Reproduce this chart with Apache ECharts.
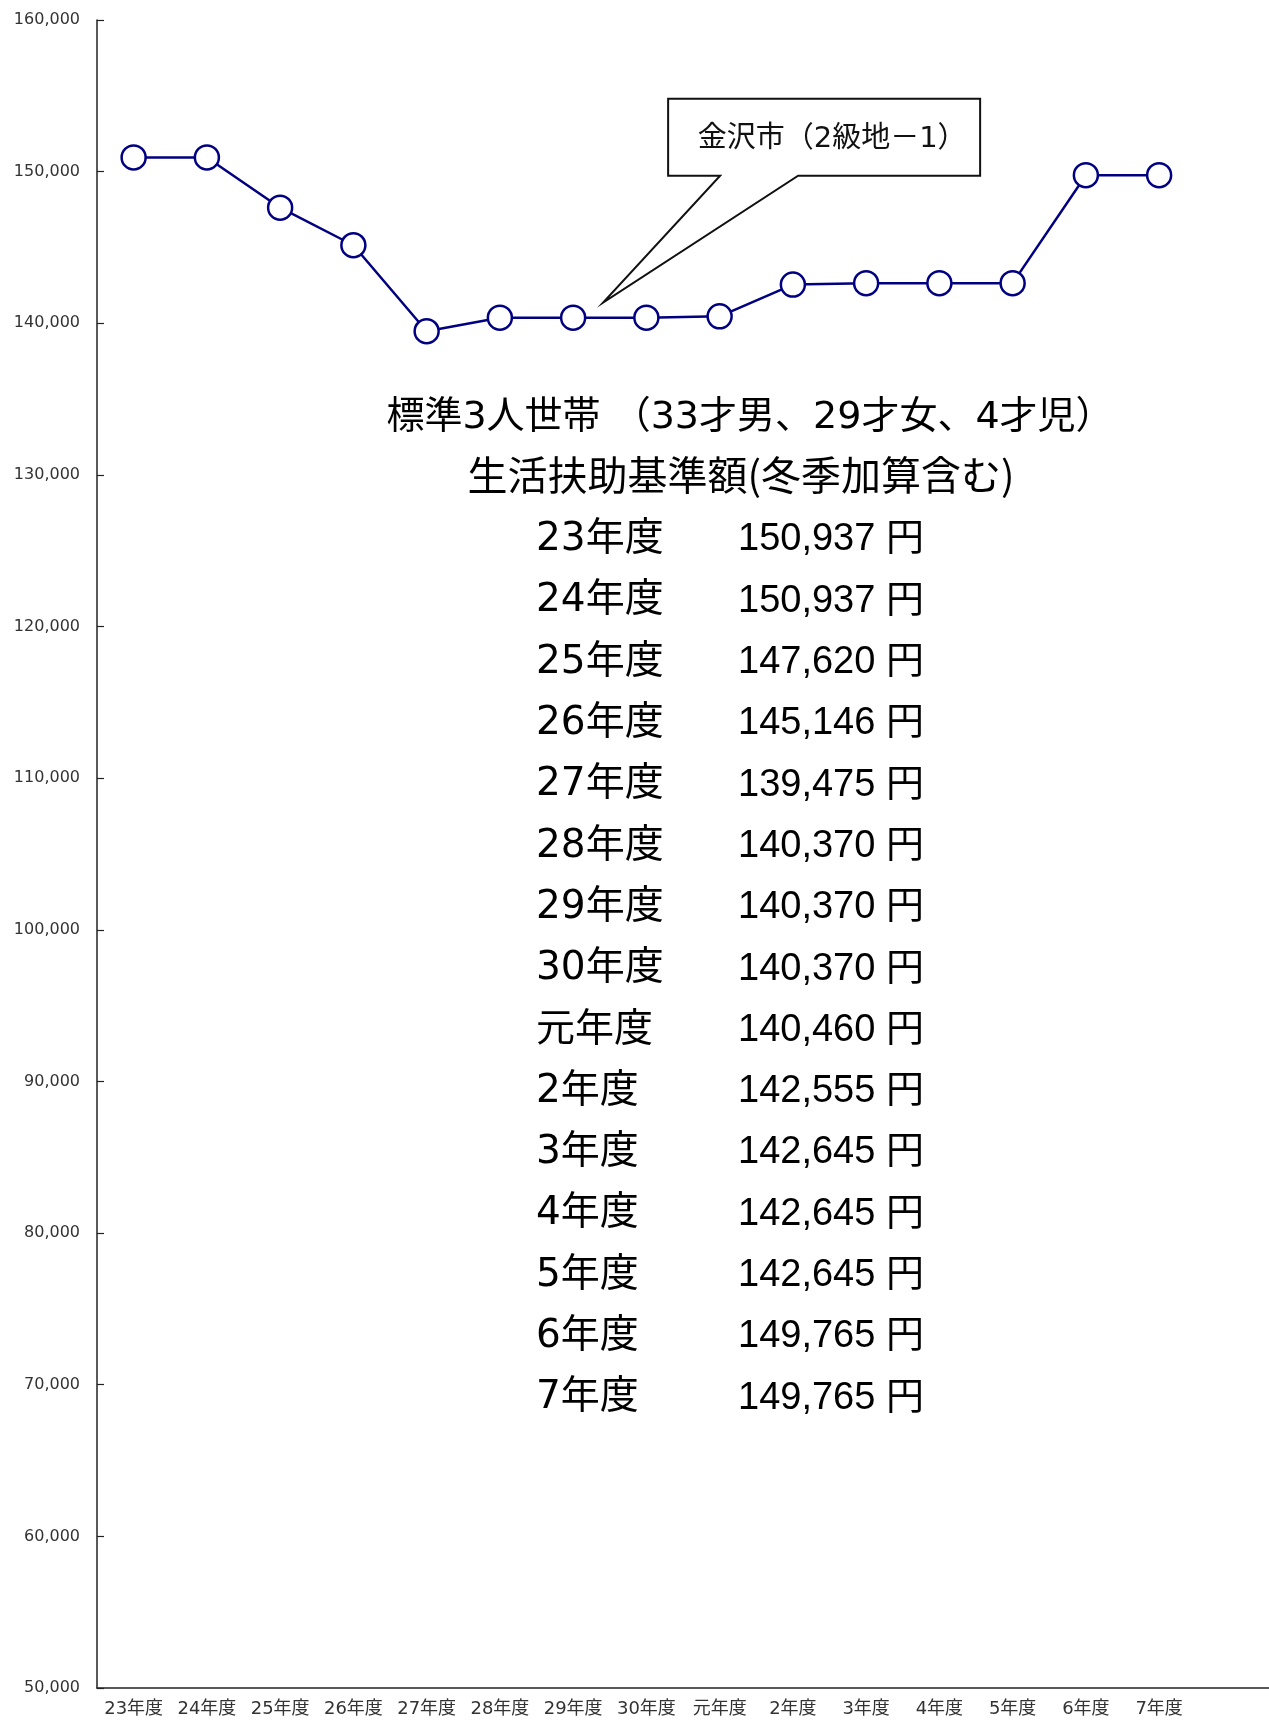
<!DOCTYPE html>
<html>
<head>
<meta charset="utf-8">
<script src="https://cdn.jsdelivr.net/npm/echarts@6/dist/echarts.min.js"></script>
<style>
  html, body { margin: 0; padding: 0; background: #fff; }
  #chart { width: 1269px; height: 1720px; }
</style>
</head>
<body>
<div id="chart"></div>
<script>
// Fiscal years on the x axis
const categories = ['23年度', '24年度', '25年度', '26年度', '27年度', '28年度', '29年度', '30年度',
  '元年度', '2年度', '3年度', '4年度', '5年度', '6年度', '7年度'];
// Monthly standard living-assistance amount (yen), household of three
const amounts = [150937, 150937, 147620, 145146, 139475, 140370, 140370, 140370,
  140460, 142555, 142645, 142645, 142645, 149765, 149765];
// Value axis range
const yMin = 50000;
const yMax = 160000;
const yStep = 10000;
// Headline text above the table
const headingLines = ['標準3人世帯 （33才男、29才女、4才児）', '生活扶助基準額(冬季加算含む)'];
const calloutText = '金沢市（2級地－1）';
const calloutIndex = 6; // the callout points at this year's marker

const NAVY = '#000080';
const CJK = '"Noto Sans CJK JP", "Noto Sans CJK SC", sans-serif';
const WIDE = '"DejaVu Sans", "Noto Sans CJK JP", sans-serif';       // wide digits, CJK fallback
const ARIALISH = '"Liberation Sans", "Noto Sans CJK JP", sans-serif';

const chart = echarts.init(document.getElementById('chart'), null, { renderer: 'canvas' });

const fmt = v => v.toLocaleString('en-US');

chart.setOption({
  animation: false,
  backgroundColor: '#fff',
  grid: { left: 97, right: 0, top: 20, bottom: 32, containLabel: false },
  xAxis: {
    type: 'category',
    data: categories.concat(['']),
    boundaryGap: true,
    axisLine: { lineStyle: { color: '#222', width: 1.5 } },
    axisTick: { inside: true, length: 6, lineStyle: { color: '#222', width: 1.2 } },
    axisLabel: { margin: 12, fontFamily: WIDE, fontSize: 18, color: '#333', interval: 0 },
    splitLine: { show: false }
  },
  yAxis: {
    type: 'value',
    min: yMin, max: yMax, interval: yStep,
    axisLine: { show: true, lineStyle: { color: '#222', width: 1.5 } },
    axisTick: { show: true, inside: true, length: 7, lineStyle: { color: '#222', width: 1.2 } },
    axisLabel: { margin: 17, fontFamily: '"DejaVu Sans", sans-serif', fontSize: 16, color: '#333', formatter: fmt },
    splitLine: { show: false }
  },
  series: [{
    type: 'line',
    data: amounts,
    symbol: 'circle',
    symbolSize: 24,
    showAllSymbol: true,
    lineStyle: { color: NAVY, width: 2.5 },
    itemStyle: { color: '#fff', borderColor: NAVY, borderWidth: 2.5 },
    z: 3
  }]
});

// Anchor the callout to the chosen marker
const [px, py] = chart.convertToPixel({ seriesIndex: 0 }, [calloutIndex, amounts[calloutIndex]]);
const tip = [px + 30, py - 15];
const box = { x1: tip[0] + 65, y1: tip[1] - 204, x2: tip[0] + 377, y2: tip[1] - 127 };
const tailL = tip[0] + 117, tailR = tip[0] + 195;

const graphics = [{
  type: 'polygon',
  z: 10,
  shape: {
    points: [[box.x1, box.y1], [box.x2, box.y1], [box.x2, box.y2], [tailR, box.y2],
      tip, [tailL, box.y2], [box.x1, box.y2]]
  },
  style: { fill: '#fff', stroke: '#111', lineWidth: 2 }
}, {
  type: 'text',
  z: 11,
  x: (box.x1 + box.x2) / 2 + 8,
  y: (box.y1 + box.y2) / 2 + 2,
  style: { text: calloutText, font: '29px ' + WIDE, fill: '#111', textAlign: 'center', textVerticalAlign: 'middle' }
}];

// Headline
const headingX = [750, 741];
const headingY = [418, 475];
const headingFonts = ['38px ' + WIDE, '40px ' + CJK];
headingLines.forEach((line, i) => {
  graphics.push({
    type: 'text', z: 5,
    x: headingX[i], y: headingY[i],
    style: { text: line, font: headingFonts[i], fill: '#000', textAlign: 'center', textVerticalAlign: 'middle' }
  });
});

// Year / amount table
const rowTop = 540, rowGap = 61.3, yearX = 536, amountX = 738;
categories.forEach((c, i) => {
  const y = rowTop + i * rowGap;
  graphics.push({
    type: 'text', z: 5, x: yearX, y,
    style: { text: c, font: '39px ' + WIDE, fill: '#000', textAlign: 'left', textVerticalAlign: 'middle' }
  });
  graphics.push({
    type: 'text', z: 5, x: amountX, y,
    style: { text: fmt(amounts[i]) + ' 円', font: '38px ' + ARIALISH, fill: '#000', textAlign: 'left', textVerticalAlign: 'middle' }
  });
});

chart.setOption({ graphic: graphics });
</script>
</body>
</html>
